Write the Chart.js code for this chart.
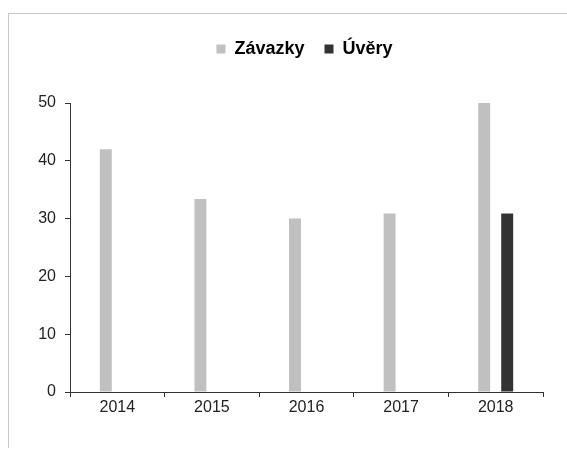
<!DOCTYPE html>
<html>
<head>
<meta charset="utf-8">
<script src="https://cdn.jsdelivr.net/npm/chart.js@4"></script>
<style>
  html, body { margin: 0; padding: 0; background: #fff; }
  #wrap { position: relative; width: 567px; height: 450px; overflow: hidden; }
  #frame {
    position: absolute; left: 8px; top: 13px; width: 600px; height: 434px;
    border-top: 1px solid #c8c8c8; border-left: 1px solid #c8c8c8;
  }
  canvas { position: absolute; left: 0; top: 0; }
</style>
</head>
<body>
<div id="wrap">
  <div id="frame"></div>
  <canvas id="chart" width="567" height="450"></canvas>
</div>
<script>
const years = ['2014', '2015', '2016', '2017', '2018'];
const zavazky = [42, 33.4, 30, 30.9, 50];
const uvery = [null, null, null, null, 30.9];
const yMax = 50;
const yStep = 10;

const FONT = "'Liberation Sans', Arial, sans-serif";
const AXIS = '#333333';

// extra room under the legend, and nudge it to the right like the original
const legendTweak = {
  id: 'legendTweak',
  beforeInit(chart) {
    const fit = chart.legend.fit;
    chart.legend.fit = function () {
      fit.bind(chart.legend)();
      this.height += 35;
    };
  },
  afterLayout(chart) {
    chart.legend.left += 33;
    chart.legend.right += 33;
  }
};

const ctx = document.getElementById('chart').getContext('2d');

new Chart(ctx, {
  type: 'bar',
  data: {
    labels: years,
    datasets: [
      { label: 'Závazky', data: zavazky, backgroundColor: '#c0c0c0' },
      { label: 'Úvěry', data: uvery, backgroundColor: '#333333' }
    ]
  },
  options: {
    responsive: false,
    animation: false,
    categoryPercentage: 0.486,
    barPercentage: 0.52,
    layout: { padding: { left: 0, right: 24, top: 20, bottom: 0 } },
    plugins: {
      tooltip: { enabled: false },
      legend: {
        position: 'top',
        labels: {
          boxWidth: 9,
          boxHeight: 9,
          padding: 20,
          color: '#000',
          font: { family: FONT, size: 18, weight: 'bold' }
        }
      }
    },
    scales: {
      x: {
        afterFit: s => { s.height = 58; },
        border: { color: AXIS, width: 1 },
        grid: { drawOnChartArea: false, tickLength: 5, color: AXIS, offset: true },
        ticks: { color: '#222', padding: 1, font: { family: FONT, size: 16 } }
      },
      y: {
        min: 0,
        max: yMax,
        afterFit: s => { s.width = 70; },
        border: { color: AXIS, width: 1 },
        grid: { drawOnChartArea: false, tickLength: 5, color: AXIS },
        ticks: { stepSize: yStep, color: '#222', padding: 9, font: { family: FONT, size: 16 } }
      }
    }
  },
  plugins: [legendTweak]
});
</script>
</body>
</html>
